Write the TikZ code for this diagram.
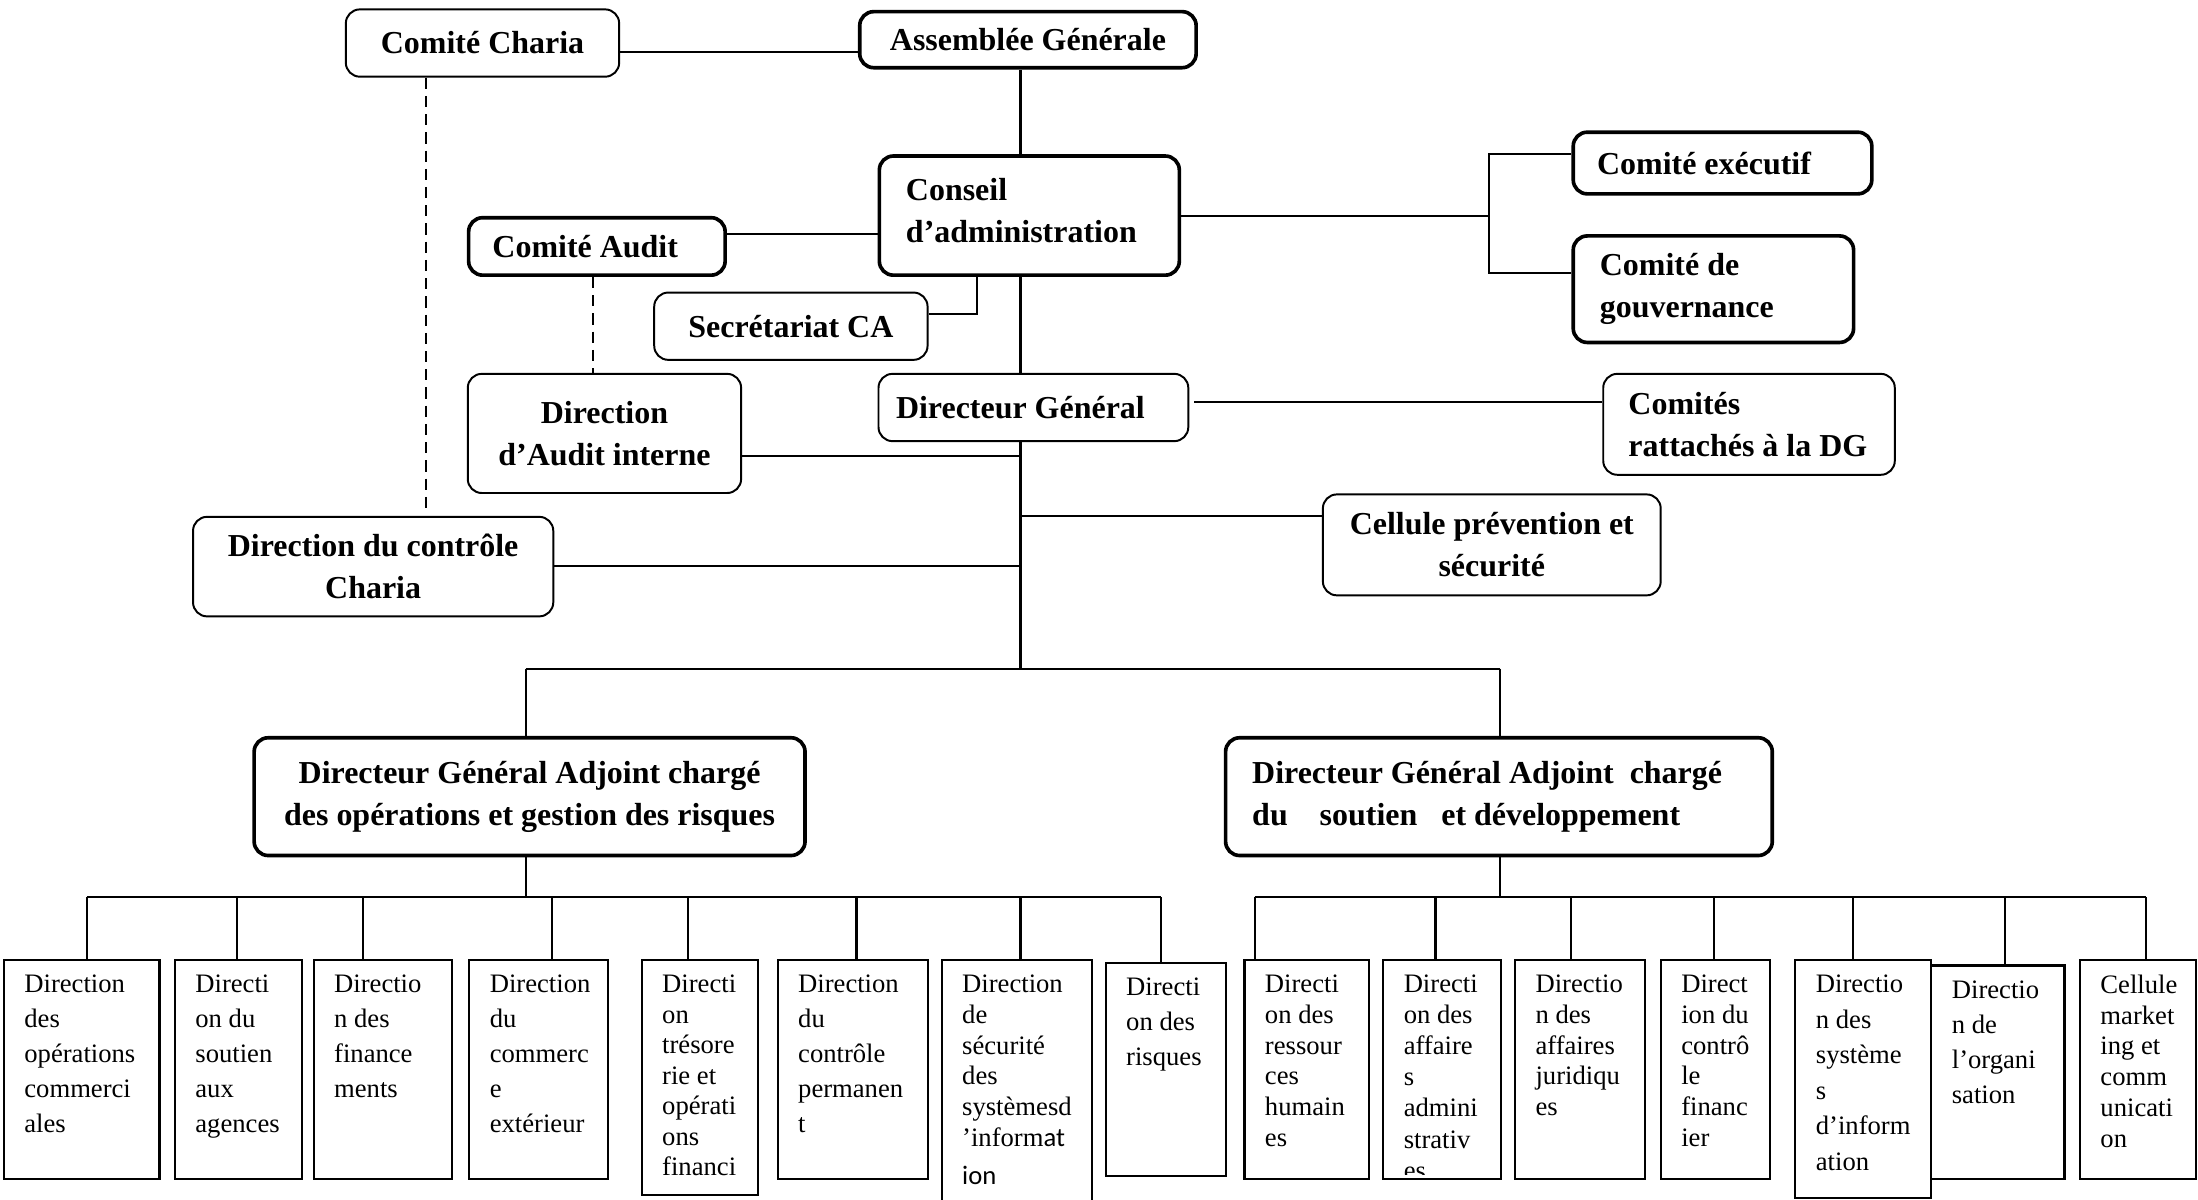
\documentclass[tikz,border=0pt]{standalone}
\usepackage{fontspec}
\setmainfont{Liberation Serif}
\newfontfamily\sansalt{Carlito}
\usetikzlibrary{calc}

% natural interword spaces inside fixed-width left-aligned boxes
\newcommand\natsp{\spaceskip=0pt\xspaceskip=0pt\relax}

% one service box at the bottom: name, x1, y1, x2, y2, baselineskip, lines
\newcommand\dirbox[7]{%
  \node[dbox, minimum width={(#4-#2)*0.5pt}, minimum height={(#5-#3)*0.5pt}] (#1) at (#2,#3) {};
  \begin{scope}
    \clip (#2,#3) rectangle (#4,{#5-2});
    \node[dtext, font=\fontsize{9.5}{#6}\selectfont] (#1-text) at ({#2+15},{#3+11}) {#7};
  \end{scope}}

\begin{document}
\begin{tikzpicture}[x=0.5pt,y=-0.5pt,
  conn/.style={line width=0.75pt},
  dashconn/.style={line width=0.8pt, dash pattern=on 4pt off 2.5pt},
  hbox/.style={draw, rounded corners=5pt, line width=0.7pt, inner sep=0pt,
    anchor=north west, font=\bfseries\fontsize{11.4}{15}\selectfont, align=center},
  hthick/.style={hbox, line width=1.3pt},
  dbox/.style={draw, line width=0.75pt, anchor=north west, inner sep=0pt},
  dtext/.style={anchor=north west, inner sep=0pt, align=left},
]
\useasboundingbox (0,0) rectangle (1568,856);

% ---------- governance level ----------
\node[hbox, minimum width=97.5pt, minimum height=24pt] (charia) at (246,6) {Comité Charia};
\node[hthick, minimum width=120pt, minimum height=20pt] (ag) at (612,7) {Assemblée Générale};
\node[hthick, minimum width=107pt, minimum height=42.5pt, text width=88pt, inner xsep=9.5pt, align=left]
  (ca) at (626,110) {\natsp Conseil\\\mbox{d’administration}\\[-11pt]\mbox{}};
\node[hthick, minimum width=91.5pt, minimum height=20.5pt, text width=74.5pt, inner xsep=8.5pt, align=left]
  (audit) at (333,154) {\natsp\mbox{Comité Audit}};
\node[hbox, minimum width=97.5pt, minimum height=24pt] (sec) at (466,208) {Secrétariat CA};
\node[hthick, minimum width=106.5pt, minimum height=22pt, text width=89.5pt, inner xsep=8.5pt, align=left]
  (exec) at (1121,93) {\natsp\mbox{Comité exécutif}};
\node[hthick, minimum width=100pt, minimum height=38pt, text width=81pt, inner xsep=9.5pt, align=left]
  (gouv) at (1121,167) {\natsp\mbox{Comité de}\\\mbox{gouvernance}};

% ---------- general management ----------
\node[hbox, minimum width=110.5pt, minimum height=24pt, text width=98pt, inner xsep=6.25pt, align=left]
  (dg) at (626,266) {\natsp\mbox{Directeur Général}};
\node[hbox, minimum width=104pt, minimum height=36pt, text width=86pt, inner xsep=9pt, align=left]
  (ratt) at (1143,266) {\natsp Comités\\\mbox{rattachés à la DG}};
\node[hbox, minimum width=97.5pt, minimum height=42.5pt] (dai) at (333,266) {Direction\\d’Audit interne};
\node[hbox, minimum width=128.5pt, minimum height=35.5pt] (dcc) at (137,368) {Direction du contrôle\\Charia};
\node[hbox, minimum width=120.5pt, minimum height=36pt] (cps) at (943,352) {Cellule prévention et\\sécurité};
\node[hthick, minimum width=196.5pt, minimum height=42pt] (dga1) at (180,525)
  {Directeur Général Adjoint chargé\\des opérations et gestion des risques};
\node[hthick, minimum width=195pt, minimum height=42pt, text width=176pt, inner xsep=9.5pt, align=left]
  (dga2) at (873,525) {\natsp\mbox{Directeur Général Adjoint\ \ chargé}\\\mbox{du\ \ \ \ soutien\ \ \ et développement}};

% ---------- connectors, upper part ----------
\coordinate (jAG) at (0,37);
\coordinate (trunk) at (728,0);
\coordinate (tbot) at (728,477);
\coordinate (jAud) at (0,167);
\coordinate (jSec) at (697,224);
\coordinate (kMid) at (1062,154);
\coordinate (kTop) at (1062,110);
\coordinate (kBot) at (1062,195);
\coordinate (rStart) at (852,287);
\coordinate (jDai) at (728,325);
\coordinate (jCps) at (728,368);
\coordinate (jDcc) at (728,404);
\coordinate (dAud) at (423,0);
\coordinate (dCh) at (304,365);

\draw[conn] (charia.east |- jAG) -- (ag.west |- jAG);
\draw[conn] (ag.south -| trunk) -- (ca.north -| trunk);
\draw[conn] (ca.south -| trunk) -- (dg.north -| trunk);
\draw[conn] (dg.south -| trunk) -- (tbot);
\draw[conn] (audit.east |- jAud) -- (ca.west |- jAud);
\draw[conn] (ca.south -| jSec) -- (jSec) -- (sec.east |- jSec);
\draw[conn] (ca.east |- kMid) -- (kMid);
\draw[conn] (exec.west |- kTop) -- (kTop) -- (kBot) -- (gouv.west |- kBot);
\draw[conn] (rStart) -- (ratt.west |- rStart);
\draw[conn] (dai.east |- jDai) -- (jDai);
\draw[conn] (jCps) -- (cps.west |- jCps);
\draw[conn] (dcc.east |- jDcc) -- (jDcc);
\draw[dashconn] (audit.south -| dAud) -- (dai.north -| dAud);
\draw[dashconn] (charia.south -| dCh) -- (dCh);

% ---------- deputy general managers ----------
\coordinate (bL) at (375,477);
\coordinate (bR) at (1070,477);
\draw[conn] (bL) -- (bR);
\draw[conn] (bL) -- (dga1.north -| bL);
\draw[conn] (bR) -- (dga2.north -| bR);

% ---------- directorates ----------
\dirbox{L1}{2}{684}{113}{840}{12.5}{Direction\\des\\opérations\\commerci\\ales}
\dirbox{L2}{124}{684}{215}{840}{12.5}{Directi\\on du\\soutien\\aux\\agences}
\dirbox{L3}{223}{684}{322}{840}{12.5}{Directio\\n des\\finance\\ments}
\dirbox{L4}{334}{684}{433}{840}{12.5}{Direction\\du\\commerc\\e\\extérieur}
\dirbox{L5}{457}{684}{540}{852}{10.9}{Directi\\on\\trésore\\rie et\\opérati\\ons\\financi}
\dirbox{L6}{554}{684}{661}{840}{12.5}{Direction\\du\\contrôle\\permanen\\t}
\dirbox{L7}{671}{684}{778}{890}{11}{Direction\\de\\sécurité\\des\\systèmesd\\’inform{\sansalt at}\\[2.5pt]{\sansalt ion}}
\dirbox{L8}{788}{686}{874}{838}{12.5}{Directi\\on des\\risques}
\dirbox{R1}{887}{684}{976}{840}{11}{Directi\\on des\\ressour\\ces\\humain\\es}
\dirbox{R2}{986}{684}{1070}{840}{11.1}{Directi\\on des\\affaire\\s\\admini\\strativ\\es}
\dirbox{R3}{1080}{684}{1173}{840}{11}{Directio\\n des\\affaires\\juridiqu\\es}
\dirbox{R4}{1184}{684}{1262}{840}{11}{Direct\\ion du\\contrô\\le\\financ\\ier}
\dirbox{R5}{1280}{684}{1377}{854}{12.7}{Directio\\n des\\système\\s\\d’inform\\ation}
\dirbox{R6}{1377}{688}{1472}{840}{12.5}{Directio\\n de\\l’organi\\sation}
\dirbox{R7}{1483}{684}{1566}{840}{11}{Cellule\\market\\ing et\\comm\\unicati\\on}

\coordinate (lb) at (375,640);
\coordinate (rb) at (1070,640);
\coordinate (lbW) at (62,640);
\coordinate (lbE) at (828,640);
\coordinate (rbW) at (895,640);
\coordinate (rbE) at (1531,640);
\draw[conn] (dga1.south -| lb) -- (lb);
\draw[conn] (dga2.south -| rb) -- (rb);
\draw[conn] (lbW) -- (lbE);
\draw[conn] (rbW) -- (rbE);
\foreach \n/\x in {L1/62,L2/169,L3/259,L4/394,L5/491,L6/611,L7/728,L8/828,
                   R1/895,R2/1024,R3/1121,R4/1223,R5/1322,R6/1430,R7/1531}
  \draw[conn] (\x,640) -- (\n.north -| \x,640);
\end{tikzpicture}
\end{document}
